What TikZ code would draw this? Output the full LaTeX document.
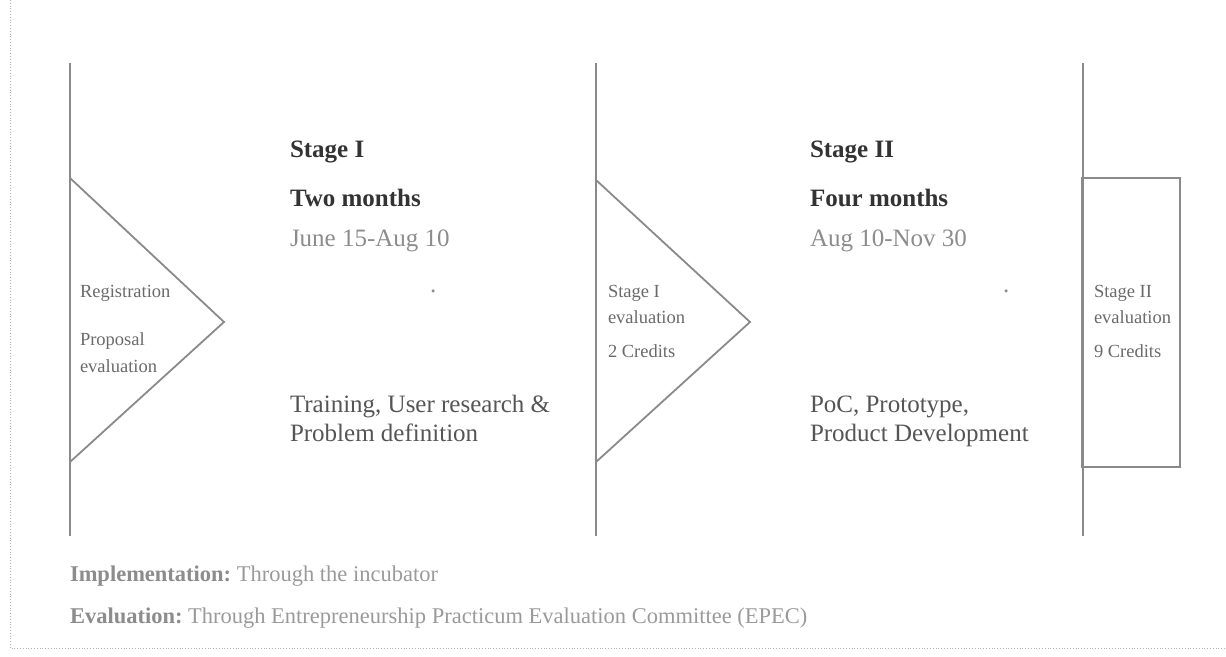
\documentclass[tikz,border=0pt]{standalone}
\usepackage{fontspec}
\setmainfont{Liberation Serif}
\definecolor{linegray}{HTML}{8A8A8A}
\definecolor{darktxt}{HTML}{333333}
\definecolor{midtxt}{HTML}{555555}
\definecolor{lighttxt}{HTML}{8C8C8C}
\definecolor{smalltxt}{HTML}{6A6A6A}
\definecolor{foottxt}{HTML}{9A9A9A}
\begin{document}
\begin{tikzpicture}[x=1pt,y=-1pt,
  txt/.style={anchor=base west,inner sep=0pt,outer sep=0pt},
  head/.style={txt,font=\fontsize{25}{30}\selectfont\bfseries,text=darktxt},
  date/.style={txt,font=\fontsize{25}{30}\selectfont,text=lighttxt},
  body/.style={txt,font=\fontsize{25}{30}\selectfont,text=midtxt},
  small/.style={txt,font=\fontsize{18.5}{22}\selectfont,text=smalltxt},
  foot/.style={txt,font=\fontsize{22.5}{27}\selectfont,text=foottxt},
  timeline/.style={draw=linegray,line width=1.8pt},
  marker/.style={draw=linegray,line width=1.8pt,line join=miter},
  frame/.style={draw=gray!60,line width=0.8pt,dotted}]
\useasboundingbox (0,0) rectangle (1226,656);
% page frame
\draw[frame] (10,0) -- (10,648) -- (1226,648);
% timelines
\coordinate (l1t) at (70,63);  \coordinate (l1b) at (70,536);
\coordinate (l2t) at (596,63); \coordinate (l2b) at (596,536);
\coordinate (l3t) at (1083,63); \coordinate (l3b) at (1083,536);
\draw[timeline] (l1t) -- (l1b);
\draw[timeline] (l2t) -- (l2b);
\draw[timeline] (l3t) -- (l3b);
% markers
\draw[marker] (70,178) -- (224,322) -- (70,462);
\draw[marker] (596,180) -- (750,322) -- (596,462);
\draw[marker] (1082,178) rectangle (1180,467);
% marker texts
\node[small] (reg) at (80,297) {Registration};
\node[small] (prop) at (80,345) {Proposal};
\node[small] (prope) at (80,372) {evaluation};
\node[small] (s1e) at (608,297) {Stage I};
\node[small] (s1ee) at (608,323) {evaluation};
\node[small] (s1c) at (608,357) {2 Credits};
\node[small] (s2e) at (1094,297) {Stage II};
\node[small] (s2ee) at (1094,323) {evaluation};
\node[small] (s2c) at (1094,357) {9 Credits};
% stage I column
\node[head] (st1) at (290,157) {Stage I};
\node[head] (tm1) at (290,206) {Two months};
\node[date] (d1) at (290,246) {June 15-Aug 10};
\node[date] (dot1) at (430,292) {.};
\node[body] (b1a) at (290,412) {Training, User research \&};
\node[body] (b1b) at (290,441) {Problem definition};
% stage II column
\node[head] (st2) at (810,157) {Stage II};
\node[head] (tm2) at (810,206) {Four months};
\node[date] (d2) at (810,246) {Aug 10-Nov 30};
\node[date] (dot2) at (1003,292) {.};
\node[body] (b2a) at (810,412) {PoC, Prototype,};
\node[body] (b2b) at (810,441) {Product Development};
% footer
\node[foot] (impl) at (70,581) {\textcolor{lighttxt}{\bfseries Implementation:}\ Through the incubator};
\node[foot] (eval) at (70,623) {\textcolor{lighttxt}{\bfseries Evaluation:}\ Through Entrepreneurship Practicum Evaluation Committee (EPEC)};
\end{tikzpicture}
\end{document}
